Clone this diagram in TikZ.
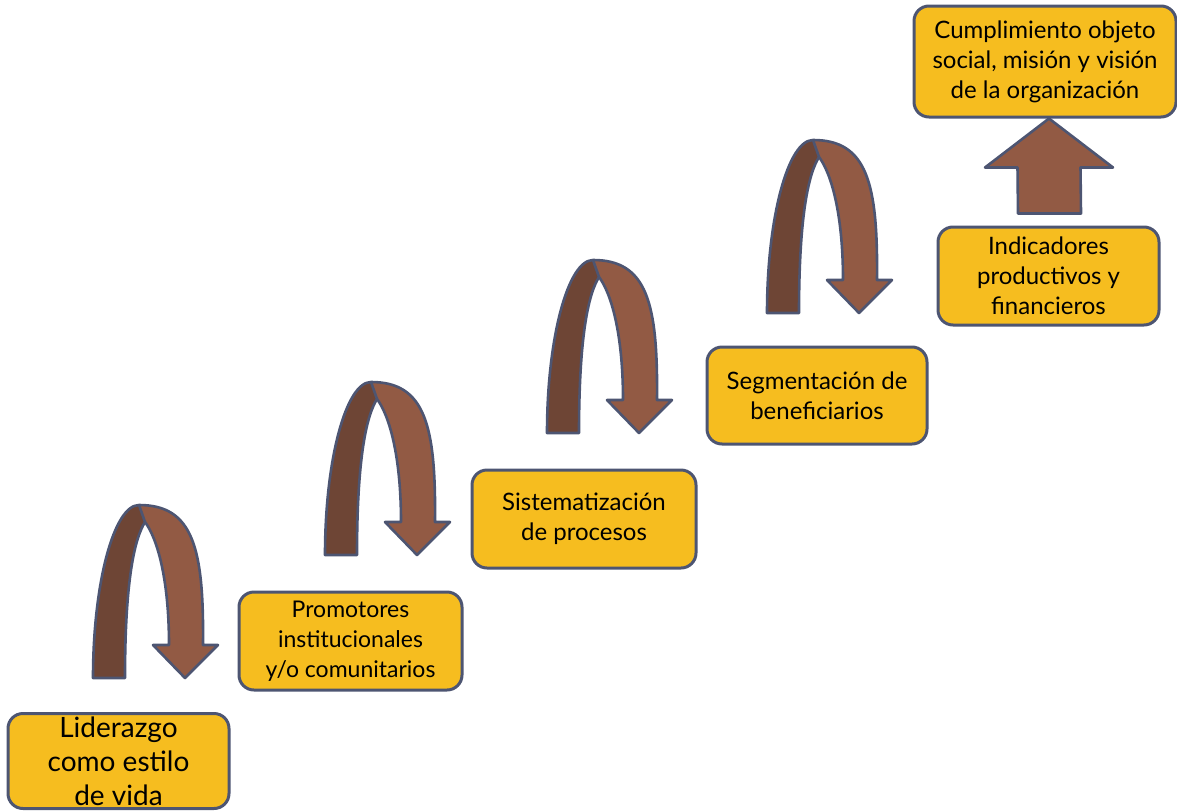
\documentclass[tikz,border=0pt]{standalone}
\usepackage{fontspec}
\setmainfont{Lato}
\usetikzlibrary{calc}
\definecolor{boxfill}{HTML}{F6BD1F}
\definecolor{edge}{HTML}{4D5572}
\definecolor{brdark}{HTML}{6E4535}
\definecolor{brlight}{HTML}{925A44}
% outline of the U-turn ribbon arrow, left leg outer corner at the origin
\newcommand\uturnoutline{(0,0) .. controls (0,-95) and (21,-173) .. (46,-173)
      .. controls (100,-173) and (111,-130) .. (110,-33) -- (125,-33) -- (92,0) -- (60,-33) -- (76,-33)
      .. controls (76,-100) and (64,-140) .. (52,-156)
      .. controls (42,-140) and (32,-100) .. (32,0) -- cycle}
% U-turn ribbon arrow; #1 is the outer bottom corner of its left leg
\newcommand\uturnarrow[1]{%
  \begin{scope}[shift={#1}]
    \fill[brlight] \uturnoutline;
    \fill[brdark] (0,0) .. controls (0,-95) and (21,-173) .. (46,-173) -- (52,-156)
      .. controls (42,-140) and (32,-100) .. (32,0) -- cycle;
    \draw[shapeline] \uturnoutline;
    \draw[shapeline] (46,-173) -- (52,-156);
  \end{scope}}
\begin{document}
\begin{tikzpicture}[x=1pt,y=-1pt,
  stepbox/.style={draw=edge, line width=3pt, fill=boxfill, rounded corners=15pt, inner sep=0pt},
  steptext/.style={font=\fontsize{24}{30}\selectfont, align=center, inner sep=0pt},
  shapeline/.style={draw=edge, line width=2.6pt, line join=round}]
\useasboundingbox (0,0) rectangle (1177,811);

% boxes of the staircase
\node[stepbox, minimum width=221pt, minimum height=95pt] (b1) at (118.5,761) {};
\node[stepbox, minimum width=223pt, minimum height=98pt] (b2) at (350.5,641) {};
\node[stepbox, minimum width=224pt, minimum height=98pt] (b3) at (584,519) {};
\node[stepbox, minimum width=220pt, minimum height=97pt] (b4) at (817,395.5) {};
\node[stepbox, minimum width=221pt, minimum height=98pt] (b5) at (1048.5,276) {};
\node[stepbox, minimum width=262pt, minimum height=111pt] (b6) at (1045,61.5) {};

% labels
\node[steptext, font=\fontsize{28}{34}\selectfont] (t1) at (b1.center) {Liderazgo\\como estilo\\de vida};
\node[steptext, font=\fontsize{23}{30}\selectfont] (t2) at (b2.center) {Promotores\\institucionales\\y/o comunitarios};
\node[steptext] (t3) at (b3.center) {Sistematización\\de procesos};
\node[steptext] (t4) at (b4.center) {Segmentación de\\beneficiarios};
\node[steptext] (t5) at (b5.center) {Indicadores\\productivos y\\financieros};
\node[steptext] (t6) at (b6.center) {Cumplimiento objeto\\social, misión y visión\\de la organización};

% curved arrows between the steps
\uturnarrow{(93,678)}
\uturnarrow{(325,555)}
\uturnarrow{(547,433)}
\uturnarrow{(767,313)}

% straight arrow from the last step to the goal
\coordinate (tip) at ($(b6.south)+(4,0)$);
\coordinate (foot) at ($(b5.north)+(1,-12)$);
\fill[brlight, shapeline] (tip) -- ++(64,49) -- ++(-32.5,0) -- ($(foot)+(31.5,0)$)
  -- ($(foot)+(-31.5,0)$) -- ($(tip)+(-31.5,49)$) -- ++(-32.5,0) -- cycle;
\end{tikzpicture}
\end{document}
